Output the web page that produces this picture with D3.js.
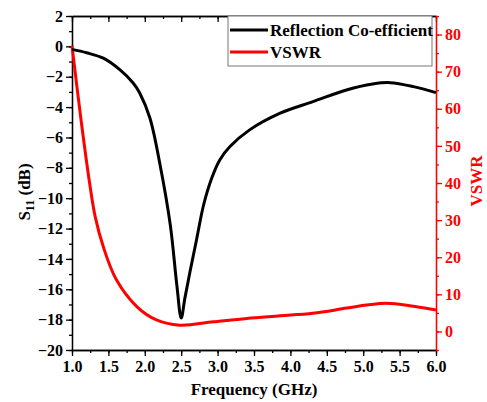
<!DOCTYPE html>
<html>
<head>
<meta charset="utf-8">
<script src="https://cdn.jsdelivr.net/npm/d3@7"></script>
<style>
  body { margin: 0; background: #fff; }
  svg { display: block; }
  text { font-family: "Liberation Serif", "Times New Roman", serif; font-weight: bold; }
</style>
</head>
<body>
<svg id="chart" width="487" height="402"></svg>
<script>
// Reflection coefficient S11 (dB) vs frequency (GHz)
const s11Freq = [1.0, 1.2, 1.43, 1.66, 1.84, 1.93, 2.07, 2.21, 2.35, 2.44, 2.5, 2.55, 2.62, 2.71, 2.81, 2.92, 3.03, 3.17, 3.44, 3.86, 4.31, 4.77, 5.13, 5.37, 5.69, 6.0];
const s11Values = [-0.2, -0.42, -0.78, -1.55, -2.41, -3.07, -4.72, -7.81, -11.76, -15.72, -17.9, -16.6, -14.86, -12.75, -10.4, -8.67, -7.48, -6.6, -5.5, -4.4, -3.64, -2.87, -2.48, -2.39, -2.65, -3.05];

// VSWR vs frequency (GHz)
const vswrFreq = [1.0, 1.13, 1.25, 1.32, 1.43, 1.61, 1.89, 2.16, 2.48, 2.94, 3.4, 3.86, 4.31, 4.77, 5.05, 5.32, 5.69, 6.0];
const vswrValues = [77, 56.1, 38.9, 30.8, 22.8, 13.9, 6.7, 3.1, 1.7, 2.6, 3.5, 4.2, 4.9, 6.3, 7.1, 7.6, 6.8, 5.8];

// Tick values
const freqTicks = [1.0, 1.5, 2.0, 2.5, 3.0, 3.5, 4.0, 4.5, 5.0, 5.5, 6.0];
const s11Ticks = [2, 0, -2, -4, -6, -8, -10, -12, -14, -16, -18, -20];
const vswrTicks = [0, 10, 20, 30, 40, 50, 60, 70, 80];

const seriesNames = ["Reflection Co-efficient", "VSWR"];
const seriesColors = ["#000000", "#ff0000"];

const svg = d3.select("#chart");
const plotLeft = 72, plotRight = 436, plotTop = 16, plotBottom = 350;

const x = d3.scaleLinear().domain([1, 6]).range([plotLeft, plotRight]);
const yL = d3.scaleLinear().domain([-20, 2]).range([plotBottom, plotTop]);
const yR = d3.scaleLinear().domain([-5, 85]).range([plotBottom, plotTop]);

const minorFreq = d3.range(1, 6.001, 0.25);
const minorS11 = d3.range(-20, 2.001, 1);
const minorVswr = d3.range(-5, 85.001, 5);

function styleAxis(g, color, fontSize) {
  g.select(".domain").attr("stroke", color).attr("stroke-width", 1.3);
  g.selectAll(".tick line").attr("stroke", color).attr("stroke-width", 1.3);
  g.selectAll(".tick text").attr("fill", color).style("font-size", fontSize + "px");
}

// bottom axis: minor then major
svg.append("g").attr("transform", `translate(0,${plotBottom})`)
  .call(d3.axisBottom(x).tickValues(minorFreq).tickSize(3).tickFormat("").tickSizeOuter(0))
  .call(g => styleAxis(g, "#000", 16));
svg.append("g").attr("transform", `translate(0,${plotBottom})`)
  .call(d3.axisBottom(x).tickValues(freqTicks).tickSize(6).tickPadding(5).tickFormat(d3.format(".1f")).tickSizeOuter(0))
  .call(g => styleAxis(g, "#000", 16));

// top frame with inward ticks
svg.append("g").attr("transform", `translate(0,${plotTop})`)
  .call(d3.axisBottom(x).tickValues(minorFreq).tickSize(3).tickFormat("").tickSizeOuter(0))
  .call(g => styleAxis(g, "#000", 16));
svg.append("g").attr("transform", `translate(0,${plotTop})`)
  .call(d3.axisBottom(x).tickValues(freqTicks).tickSize(6).tickFormat("").tickSizeOuter(0))
  .call(g => styleAxis(g, "#000", 16));

// left axis
svg.append("g").attr("transform", `translate(${plotLeft},0)`)
  .call(d3.axisLeft(yL).tickValues(minorS11).tickSize(3).tickFormat("").tickSizeOuter(0))
  .call(g => styleAxis(g, "#000", 16));
svg.append("g").attr("transform", `translate(${plotLeft},0)`)
  .call(d3.axisLeft(yL).tickValues(s11Ticks).tickSize(6).tickPadding(3).tickFormat(d3.format("d")).tickSizeOuter(0))
  .call(g => styleAxis(g, "#000", 16));

// right axis (VSWR) in red
svg.append("g").attr("transform", `translate(${plotRight},0)`)
  .call(d3.axisRight(yR).tickValues(minorVswr).tickSize(3).tickFormat("").tickSizeOuter(0))
  .call(g => styleAxis(g, "#ff0000", 16));
svg.append("g").attr("transform", `translate(${plotRight},0)`)
  .call(d3.axisRight(yR).tickValues(vswrTicks).tickSize(6).tickPadding(3).tickFormat(d3.format("d")).tickSizeOuter(0))
  .call(g => styleAxis(g, "#ff0000", 16));

// smooth curves through the measured points
const s11Line = d3.line().x((d, i) => x(s11Freq[i])).y(d => yL(d)).curve(d3.curveCatmullRom.alpha(0.5));
const vswrLine = d3.line().x((d, i) => x(vswrFreq[i])).y(d => yR(d)).curve(d3.curveCatmullRom.alpha(0.5));

svg.append("path").datum(vswrValues).attr("d", vswrLine)
  .attr("fill", "none").attr("stroke", seriesColors[1]).attr("stroke-width", 3)
  .attr("stroke-linejoin", "round");
svg.append("path").datum(s11Values).attr("d", s11Line)
  .attr("fill", "none").attr("stroke", seriesColors[0]).attr("stroke-width", 3)
  .attr("stroke-linejoin", "round");

// legend
const legend = svg.append("g");
legend.append("rect").attr("x", 228).attr("y", plotTop).attr("width", 204).attr("height", 50)
  .attr("fill", "#fff").attr("stroke", "#777").attr("stroke-width", 1);
seriesNames.forEach((name, i) => {
  const cy = 30 + i * 22;
  legend.append("line").attr("x1", 230).attr("x2", 268).attr("y1", cy).attr("y2", cy)
    .attr("stroke", seriesColors[i]).attr("stroke-width", 3);
  legend.append("text").attr("x", 270).attr("y", cy + 6).text(name)
    .style("font-size", "17px").attr("fill", "#000");
});

// axis titles
svg.append("text").attr("x", (plotLeft + plotRight) / 2).attr("y", 395)
  .attr("text-anchor", "middle").style("font-size", "17px").text("Frequency (GHz)");

const yTitle = svg.append("text").attr("transform", "translate(30,192) rotate(-90)")
  .attr("text-anchor", "middle").style("font-size", "17px");
yTitle.append("tspan").text("S");
yTitle.append("tspan").text("11").style("font-size", "12px").attr("dy", 4);
yTitle.append("tspan").text(" (dB)").attr("dy", -4);

svg.append("text").attr("transform", "translate(482,181) rotate(-90)")
  .attr("text-anchor", "middle").style("font-size", "17px").attr("fill", "#ff0000").text("VSWR");
</script>
</body>
</html>
